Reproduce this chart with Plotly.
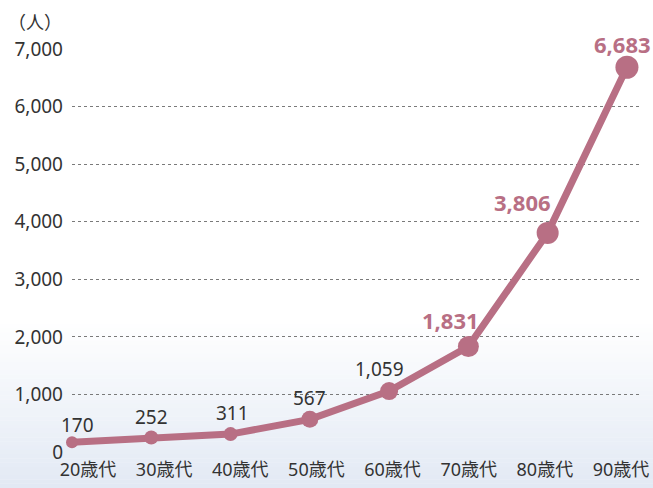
import plotly.graph_objects as go

categories = ["20歳代", "30歳代", "40歳代", "50歳代", "60歳代", "70歳代", "80歳代", "90歳代"]
values = [170, 252, 311, 567, 1059, 1831, 3806, 6683]
value_labels = ["170", "252", "311", "567", "1,059", "1,831", "3,806", "6,683"]
y_tick_values = [0, 1000, 2000, 3000, 4000, 5000, 6000, 7000]
y_tick_labels = ["0", "1,000", "2,000", "3,000", "4,000", "5,000", "6,000", "7,000"]
unit_label = "（人）"

# ---- styles ----
line_color = "#b86f84"
marker_sizes = [12, 14, 14, 17, 18, 21, 22, 23]
label_offsets = [(5, 17), (0, 20), (2, 21), (0, 21), (-10, 22), (-18, 27), (-25, 31), (-4, 23)]
highlight = [False, False, False, False, False, True, True, True]
FONT = "Noto Sans, Noto Sans CJK JP"
TEXT = "#333333"

x = list(range(len(categories)))

fig = go.Figure()
fig.add_trace(go.Scatter(
    x=x, y=values, mode="lines+markers",
    line=dict(color=line_color, width=7),
    marker=dict(size=marker_sizes, color=line_color, opacity=1, line=dict(width=0)),
    cliponaxis=False, hoverinfo="skip", showlegend=False,
))
# invisible trace carrying the category label axis
fig.add_trace(go.Scatter(
    x=x, y=values, xaxis="x2", mode="markers", marker=dict(opacity=0),
    hoverinfo="skip", showlegend=False,
))

annotations = []
for i, (v, lab) in enumerate(zip(values, value_labels)):
    dx, dy = label_offsets[i]
    if highlight[i]:
        font = dict(family=FONT, size=22, color=line_color, weight="bold")
    else:
        font = dict(family=FONT, size=19, color=TEXT)
    annotations.append(dict(x=i, y=v, xref="x", yref="y", text=lab, showarrow=False,
                            xshift=dx, yshift=dy, font=font))
annotations.append(dict(x=0, y=1, xref="paper", yref="paper", xanchor="left", yanchor="middle",
                        xshift=-66, yshift=28, text=unit_label, showarrow=False,
                        font=dict(family="Noto Sans CJK JP", size=18, color=TEXT)))

# bottom background gradient, white -> light blue (style only)
shapes = []
n = 40
top_px, bot_px = 320, 488
c_top = (255, 255, 255)
c_bot = (226, 233, 244)
for k in range(n):
    p0 = top_px + (bot_px - top_px) * k / n
    p1 = top_px + (bot_px - top_px) * (k + 1) / n
    t = (k + 0.5) / n
    col = tuple(round(a + (b - a) * t) for a, b in zip(c_top, c_bot))
    shapes.append(dict(type="rect", xref="paper", yref="paper", x0=-0.2, x1=1.1,
                       y0=(452 - p1) / 403, y1=(452 - p0) / 403 + 0.001,
                       fillcolor="rgb(%d,%d,%d)" % col,
                       line=dict(width=0), layer="below"))

fig.update_layout(
    width=653, height=488,
    margin=dict(l=72, r=11, t=49, b=36),
    paper_bgcolor="white", plot_bgcolor="rgba(0,0,0,0)",
    font=dict(family=FONT, color=TEXT),
    annotations=annotations,
    shapes=shapes,
    xaxis=dict(range=[0, 7.19], showgrid=False, zeroline=False, showline=False,
               showticklabels=False, ticks="", automargin=False),
    xaxis2=dict(range=[-0.21, 7.276], overlaying="x", side="bottom", tickvals=x,
                ticktext=categories, showgrid=False, zeroline=False, showline=False,
                ticks="", ticklabelstandoff=5, ticklabeloverflow="allow", automargin=False,
                tickfont=dict(size=18, family=FONT, color=TEXT)),
    yaxis=dict(range=[0, 7000], tickvals=y_tick_values, ticktext=y_tick_labels,
               showgrid=True, gridcolor="#7a7a7a", griddash="dot", gridwidth=1,
               zeroline=False, showline=False, ticks="", ticklabelstandoff=8,
               automargin=False, tickfont=dict(size=19, family=FONT, color=TEXT)),
)

fig.write_html(
    "out.html",
    config={"displayModeBar": False},
    post_script="document.body.style.margin='0';document.body.style.overflow='hidden';",
)
